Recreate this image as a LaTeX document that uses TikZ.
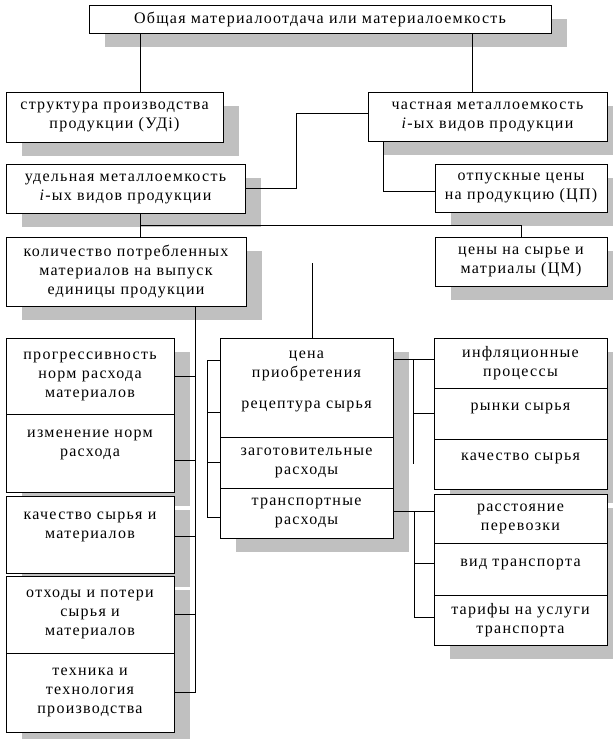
\documentclass[tikz,border=0pt]{standalone}
\usepackage{fontspec}
\setmainfont{Liberation Serif}[LetterSpace=8]
\usepackage{tikz}
\usetikzlibrary{positioning,shadows}

\definecolor{shadegray}{RGB}{192,192,192}

\begin{document}
\begin{tikzpicture}[x=1pt,y=-1pt,line width=0.9pt,
                    font=\fontsize{16}{19}\selectfont,
                    box/.style 2 args={draw,fill=white,align=center,
                      minimum width=#1,minimum height=#2,inner sep=0pt,
                      outer sep=0pt,anchor=north west,
                      drop shadow={shadow xshift=16pt,shadow yshift=-14pt,
                                   fill=shadegray,opacity=1}}]
  \useasboundingbox (0,0) rectangle (613,739);

  % upper levels
  \node[box={462pt}{28pt}] (top)    at (89,5)   {Общая материалоотдача или материалоемкость};
  \node[box={217pt}{50pt}] (struct) at (6,92)   {структура производства\\продукции (УДi)};
  \node[box={239pt}{49pt}] (chast)  at (368,92) {частная металлоемкость\\\textit{i}-ых видов продукции};
  \node[box={239pt}{49pt}] (ud)   [below=22pt of struct.south west,anchor=north west] {удельная металлоемкость\\\textit{i}-ых видов продукции};
  \node[box={172pt}{48pt}] (otp)  [below=23pt of chast.south east,anchor=north east] {отпускные цены\\на продукцию (ЦП)};
  \node[box={240pt}{69pt}] (kol)  [below=24pt of ud.south west,anchor=north west] {количество потребленных\\материалов на выпуск\\единицы продукции};
  \node[box={172pt}{49pt}] (cenm) [below=25pt of otp.south east,anchor=north east] {цены на сырье и\\матриалы (ЦМ)};

  % left column
  \node[box={168pt}{76pt}] (prog) [below=32pt of kol.south west,anchor=north west] {прогрессивность\\норм расхода\\материалов};
  \node[box={168pt}{78pt}] (izm)  [below=0pt of prog] {изменение норм\\расхода\\\mbox{}};
  \node[box={168pt}{77pt}] (kach) [below=4pt of izm]  {качество сырья и\\материалов\\\mbox{}};
  \node[box={168pt}{77pt}] (otx)  [below=3pt of kach] {отходы и потери\\сырья и\\материалов};
  \node[box={168pt}{79pt}] (tex)  [below=0pt of otx]  {техника и\\технология\\производства};

  % middle column
  \node[box={173pt}{99pt}] (cena) [right=46pt of prog.north east,anchor=north west] {цена\\приобретения\\[12pt]рецептура сырья\\[-4pt]\mbox{}};
  \node[box={173pt}{51pt}] (zag)  [below=0pt of cena] {заготовительные\\расходы};
  \node[box={173pt}{50pt}] (tra)  [below=0pt of zag]  {транспортные\\расходы};

  % right column
  \node[box={173pt}{50pt}] (infl)  [right=41pt of cena.north east,anchor=north west] {инфляционные\\процессы};
  \node[box={173pt}{51pt}] (ryn)   [below=0pt of infl] {рынки сырья\\[-5pt]\mbox{}};
  \node[box={173pt}{50pt}] (kachs) [below=0pt of ryn]  {качество сырья\\[-5pt]\mbox{}};
  \node[box={173pt}{49pt}] (rass)  [below=5pt of kachs] {расстояние\\перевозки};
  \node[box={173pt}{52pt}] (vid)   [below=0pt of rass]  {вид транспорта\\[-7pt]\mbox{}};
  \node[box={173pt}{50pt}] (tar)   [below=0pt of vid]   {тарифы на услуги\\транспорта};

  % connectors
  \coordinate (xa) at ([xshift=51pt]top.south west);
  \coordinate (xb) at ([xshift=-79pt]top.south east);
  \draw (xa) -- (xa |- struct.north);
  \draw (xb) -- (xb |- chast.north);
  \draw ([yshift=3pt]chast.west) -| ([xshift=51pt]ud.east) -- (ud.east);
  \draw ([xshift=15pt]chast.south west) |- ([yshift=-3pt]otp.west);
  \draw (xa |- ud.south) -- (xa |- kol.north);
  \draw (xa |- ud.south) ++(0,12) -| (cenm.north);

  \coordinate (fl) at (312,263);
  \draw (fl) -- (fl |- cena.north);

  \coordinate (lb) at ([xshift=69pt]kol.south);
  \draw (lb) |- (prog.east)
        (lb) |- ([yshift=-7pt]izm.east)
        (lb) |- ([yshift=-2pt]kach.east)
        (lb) |- (otx.east)
        (lb) |- (tex.east);

  \coordinate (mb) at ([xshift=-13pt,yshift=27pt]cena.west);
  \draw (mb) -- ([yshift=27pt]cena.west)
        (mb) |- ([yshift=-25pt]cena.west)
        (mb) |- (zag.west)
        (mb) |- ([yshift=-4pt]tra.west);

  \coordinate (rb) at ([xshift=20pt,yshift=28pt]cena.east);
  \draw ([yshift=28pt]cena.east) -- (rb -| infl.west);
  \draw (rb) |- (ryn.west)
        (rb) -- (rb |- kachs.west);

  \coordinate (rc) at ([xshift=21pt,yshift=2pt]tra.east);
  \draw ([yshift=2pt]tra.east) -- (rc -| rass.west);
  \draw (rc) |- ([yshift=6pt]vid.west)
        (rc) |- ([yshift=3pt]tar.west);
\end{tikzpicture}
\end{document}
